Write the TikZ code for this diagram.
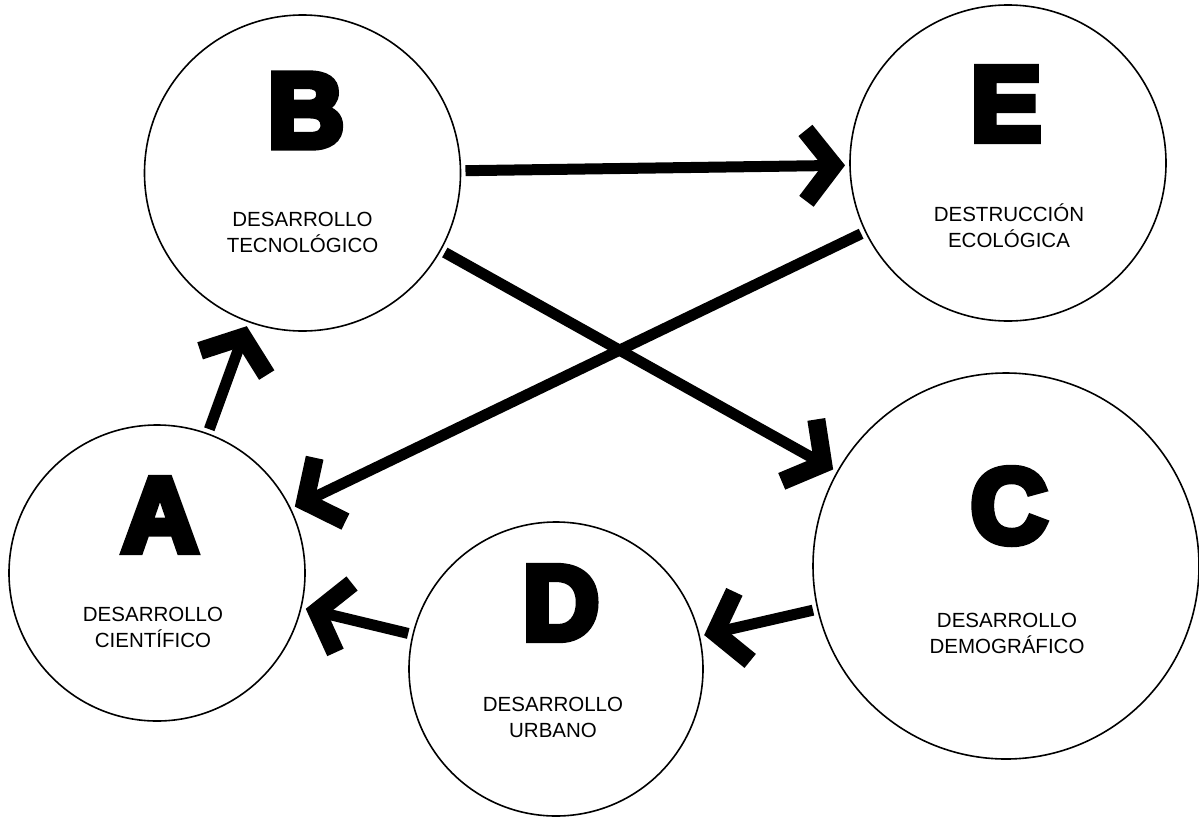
\documentclass[tikz,border=0pt]{standalone}
\usepackage{fontspec}
\setmainfont{Liberation Sans}
\newfontfamily\letterfont{Liberation Sans}[BoldFeatures={FakeBold=7}]

\pgfdeclarearrow{
  name = Chevron,
  setup code = {
    \pgfarrowssettipend{0pt}
    \pgfarrowssetlineend{-18pt}
    \pgfarrowssetbackend{-46pt}
  },
  drawing code = {
    \pgfpathmoveto{\pgfpointorigin}
    \pgfpathlineto{\pgfqpoint{-32pt}{41pt}}
    \pgfpathlineto{\pgfqpoint{-46.2pt}{29.9pt}}
    \pgfpathlineto{\pgfqpoint{-22.8pt}{0pt}}
    \pgfpathlineto{\pgfqpoint{-46.2pt}{-29.9pt}}
    \pgfpathlineto{\pgfqpoint{-32pt}{-41pt}}
    \pgfpathclose
    \pgfusepathqfill
  }
}

\tikzset{
  bubble/.style={circle, draw, line width=1.6pt, inner sep=0pt, outer sep=5pt},
  capital/.style={font=\letterfont\bfseries\fontsize{106}{106}\selectfont, inner sep=0pt},
  caption/.style={font=\fontsize{20.5}{25.5}\selectfont, align=center, inner sep=0pt, anchor=base},
  link/.style={line width=11pt, -Chevron},
}

\begin{document}
\begin{tikzpicture}[x=1pt,y=-1pt]
    \useasboundingbox (0,0) rectangle (1199,817);

    % circles
    \node[bubble, minimum size=296pt] (A) at (157,573) {};
    \node[bubble, minimum size=316pt] (B) at (302.5,173) {};
    \node[bubble, minimum size=386pt] (C) at (1006,566) {};
    \node[bubble, minimum size=294pt] (D) at (556,669) {};
    \node[bubble, minimum size=316pt] (E) at (1008,163) {};

    % letters
    \node[capital] (A-l) at (160,515) {A};
    \node[capital] (B-l) at (306,110.5) {B};
    \node[capital] (C-l) at (1009,506) {C};
    \node[capital] (D-l) at (561,603) {D};
    \node[capital] (E-l) at (1006,104) {E};

    % captions (base = last line)
    \node[caption] (A-t) at (153,647) {DESARROLLO\\CIENTÍFICO};
    \node[caption] (B-t) at (302.5,252) {DESARROLLO\\TECNOLÓGICO};
    \node[caption] (C-t) at (1007,653) {DESARROLLO\\DEMOGRÁFICO};
    \node[caption] (D-t) at (553,737) {DESARROLLO\\URBANO};
    \node[caption] (E-t) at (1009,247) {DESTRUCCIÓN\\ECOLÓGICA};

    % arrows
    \draw[link] (A) -- (B);
    \draw[link] (B) -- (E);
    \draw[link] (B) -- (C);
    \draw[link] (E) -- (A);
    \draw[link] (C) -- (D);
    \draw[link] (D) -- (A);
\end{tikzpicture}
\end{document}
